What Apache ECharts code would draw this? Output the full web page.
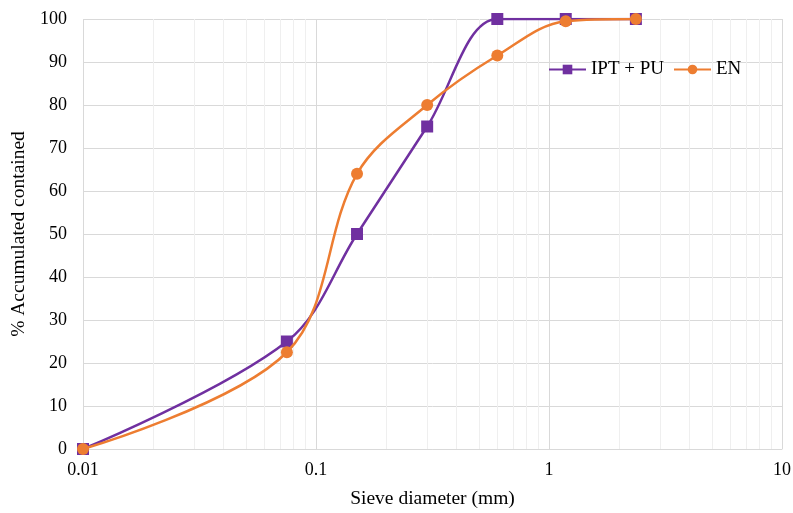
<!DOCTYPE html>
<html>
<head>
<meta charset="utf-8">
<script src="https://cdn.jsdelivr.net/npm/echarts@6/dist/echarts.min.js"></script>
<style>
  html, body { margin: 0; padding: 0; background: #fff; }
  #chart { width: 793px; height: 513px; }
</style>
</head>
<body>
<div id="chart"></div>
<script>
// sieve sizes (mm) and accumulated % for each series
const sieves = [0.01, 0.075, 0.15, 0.3, 0.6, 1.18, 2.36];
const iptPu = [0, 25, 50, 75, 100, 100, 100];
const en = [0, 22.5, 64, 80, 91.5, 99.5, 100];

// minor log grid lines (2..9 in each decade)
const minorLines = [
  0.02, 0.03, 0.04, 0.05, 0.06, 0.07, 0.08, 0.09,
  0.2, 0.3, 0.4, 0.5, 0.6, 0.7, 0.8, 0.9,
  2, 3, 4, 5, 6, 7, 8, 9
];

const font = 'Liberation Serif, Times New Roman, serif';
const chart = echarts.init(document.getElementById('chart'));

chart.setOption({
  animation: false,
  textStyle: { fontFamily: font },
  grid: { left: 83, right: 11, top: 19, bottom: 64, outerBoundsMode: 'none' },
  legend: {
    left: 548, top: 60, padding: 0,
    itemWidth: 37, itemHeight: 12, itemGap: 9,
    textStyle: { fontFamily: font, fontSize: 19, color: '#000' },
    data: ['IPT + PU', 'EN']
  },
  xAxis: {
    type: 'log',
    logBase: 10,
    min: 0.01,
    max: 10,
    name: 'Sieve diameter (mm)',
    nameLocation: 'middle',
    nameGap: 40,
    nameTextStyle: { fontFamily: font, fontSize: 19.5, color: '#000' },
    axisLine: { lineStyle: { color: '#d9d9d9' } },
    axisTick: { show: false },
    axisLabel: {
      fontFamily: font, fontSize: 18, color: '#000', margin: 12,
      formatter: v => String(+v.toPrecision(3))
    },
    splitLine: { show: true, lineStyle: { color: '#d9d9d9' } }
  },
  yAxis: {
    type: 'value',
    min: 0, max: 100, interval: 10,
    name: '% Accumulated contained',
    nameLocation: 'middle',
    nameGap: 52,
    nameTextStyle: { fontFamily: font, fontSize: 19.5, color: '#000' },
    axisLine: { show: false },
    axisTick: { show: false },
    axisLabel: { fontFamily: font, fontSize: 18, color: '#000', margin: 16 },
    splitLine: { lineStyle: { color: '#d9d9d9' } }
  },
  series: [
    {
      name: 'EN',
      type: 'line',
      smooth: 0.35,
      data: sieves.map((s, i) => [s, en[i]]),
      symbol: 'circle',
      symbolSize: 12,
      itemStyle: { color: '#ED7D31' },
      lineStyle: { color: '#ED7D31', width: 2.5 },
      z: 3,
      markLine: {
        silent: true,
        symbol: 'none',
        label: { show: false },
        lineStyle: { color: '#efefef', type: 'solid', width: 1 },
        data: minorLines.map(v => ({ xAxis: v })),
        z: 1
      }
    },
    {
      name: 'IPT + PU',
      type: 'line',
      smooth: 0.35,
      data: sieves.map((s, i) => [s, iptPu[i]]),
      symbol: 'rect',
      symbolSize: 12,
      itemStyle: { color: '#7030A0' },
      lineStyle: { color: '#7030A0', width: 2.5 },
      z: 2
    }
  ]
});
</script>
</body>
</html>
